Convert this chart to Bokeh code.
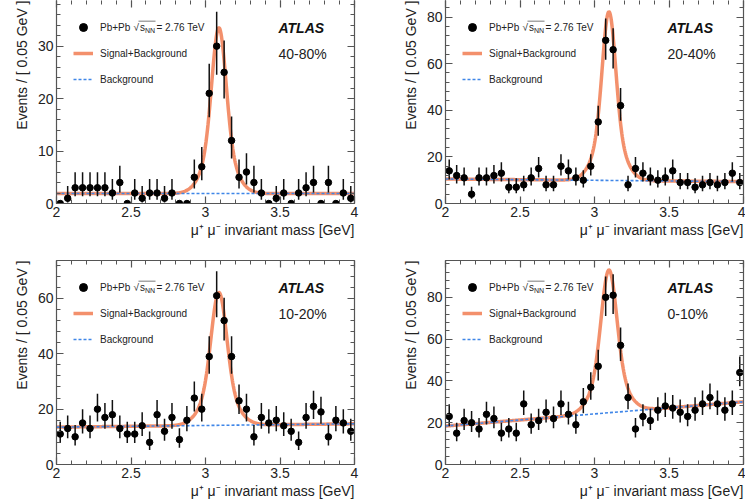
import numpy as np
from bokeh.plotting import figure
from bokeh.layouts import gridplot
from bokeh.models import (Range1d, LinearAxis, Label, SingleIntervalTicker, Title,
                          CustomJSTickFormatter, Legend, LegendItem, BoxAnnotation,
                          CustomLabelingPolicy)
from bokeh.embed import file_html
from bokeh.resources import INLINE

# ---------------- data ----------------
bin_centres = [2.025, 2.075, 2.125, 2.175, 2.225, 2.275, 2.325, 2.375, 2.425, 2.475,
               2.525, 2.575, 2.625, 2.675, 2.725, 2.775, 2.825, 2.875, 2.925, 2.975,
               3.025, 3.075, 3.125, 3.175, 3.225, 3.275, 3.325, 3.375, 3.425, 3.475,
               3.525, 3.575, 3.625, 3.675, 3.725, 3.775, 3.825, 3.875, 3.925, 3.975]

counts_40_80 = [0, 1, 3, 3, 3, 3, 3, 2, 4, 0,
                2, 1, 2, 2, 1, 2, 0, 0, 5, 7,
                21, 30, 25, 12, 5, 6, 4, 2, 0, 1,
                2, 0, 2, 3, 4, 0, 4, 0, 2, 1]
counts_20_40 = [14, 12, 11, 4, 11, 11, 12, 13, 7, 7,
                8, 11, 15, 8, 8, 16, 14, 11, 10, 16,
                35, 70, 66, 42, 8, 15, 13, 11, 10, 11,
                14, 9, 9, 7, 8, 9, 8, 9, 13, 9]
counts_10_20 = [11, 13, 10, 15, 13, 20, 17, 18, 13, 11,
                11, 14, 8, 18, 12, 17, 9, 16, 24, 20,
                39, 61, 52, 39, 23, 20, 10, 17, 15, 16,
                14, 12, 8, 17, 21, 19, 10, 16, 15, 12]
counts_0_10 = [23, 15, 21, 20, 17, 24, 22, 15, 17, 15,
               29, 19, 21, 25, 22, 29, 24, 19, 30, 37,
               47, 80, 81, 57, 32, 17, 23, 21, 26, 28,
               27, 25, 23, 26, 29, 32, 29, 26, 29, 44]

panel_counts = [counts_40_80, counts_20_40, counts_10_20, counts_0_10]
centrality = ["40-80%", "20-40%", "10-20%", "0-10%"]

# fit curves (core + wide Gaussian signal on a linear background)
fit_mean = [3.090, 3.097, 3.090, 3.097]
fit_sigma_core = [0.046, 0.043, 0.050, 0.050]
fit_sigma_wide = [0.092, 0.088, 0.100, 0.100]
fit_wide_fraction = [0.30, 0.30, 0.30, 0.30]
fit_signal_peak = [31.6, 72.4, 48.0, 68.3]
fit_bkg_at_2 = [1.9, 10.5, 13.5, 18.4]
fit_bkg_at_4 = [1.9, 9.4, 14.7, 30.0]

y_axis_max = [38.7, 87.1, 73.7, 97.6]
y_major_step = [10, 20, 20, 20]

x_title = "\u03bc\u207a \u03bc\u207b invariant mass [GeV]"
y_title = "Events / [ 0.05 GeV ]"

# ---------------- style ----------------
FONT = "Liberation Sans"
CURVE = "#f2845c"
BKG = "#3f86e8"
AXIS = "#555555"
TEXT = "#222222"

# (width, height, border left, right, top, bottom)
geom = [
    (372, 251, 56, 18, 0, 48),
    (373, 251, 73, 2, 0, 48),
    (372, 252, 56, 18, 9, 39),
    (373, 252, 73, 2, 9, 39),
]


def style_axis(ax, show_labels, show_line=True):
    ax.axis_line_color = AXIS if show_line else None
    ax.axis_line_width = 1.2
    ax.major_tick_in = 7
    ax.major_tick_out = 0
    ax.minor_tick_in = 4
    ax.minor_tick_out = 0
    ax.major_tick_line_color = AXIS
    ax.minor_tick_line_color = AXIS
    ax.major_tick_line_width = 1.2
    ax.minor_tick_line_width = 1
    if show_labels:
        ax.major_label_text_font = FONT
        ax.major_label_text_font_size = "14px"
        ax.major_label_text_color = TEXT
        ax.major_label_standoff = 3
    else:
        ax.major_label_text_font_size = "0px"
        ax.major_label_standoff = 0
        ax.major_label_policy = CustomLabelingPolicy(
            code="for (const i of indices) indices.unset(i)")


def make_panel(i):
    w, h, bl, br, bt, bb = geom[i]
    fh = h - bt - bb
    p = figure(width=w, height=h, x_range=Range1d(2, 4), y_range=Range1d(0, y_axis_max[i]),
               output_backend="svg", toolbar_location=None, tools="",
               min_border_left=bl, min_border_right=br,
               min_border_top=bt, min_border_bottom=bb,
               x_axis_type=None, y_axis_type=None)
    p.outline_line_color = None
    p.background_fill_color = "white"
    p.border_fill_color = "white"

    fmt = CustomJSTickFormatter(code="return String(Math.round(tick*100)/100);")
    xt = SingleIntervalTicker(interval=0.5, num_minor_ticks=5)
    yt = SingleIntervalTicker(interval=y_major_step[i], num_minor_ticks=5)
    top_line = i >= 2
    for loc, ticker, show, line in [("below", xt, True, True), ("above", xt, False, top_line),
                                    ("left", yt, True, True), ("right", yt, False, True)]:
        ax = LinearAxis(ticker=ticker, formatter=fmt)
        style_axis(ax, show, line)
        p.add_layout(ax, loc)

    p.add_layout(Title(text=x_title, align="right", text_font=FONT, text_font_size="14px",
                       text_font_style="normal", text_color=TEXT, standoff=0), "below")
    p.add_layout(Title(text=y_title, align="right", text_font=FONT, text_font_size="14px",
                       text_font_style="normal", text_color=TEXT, standoff=9), "left")

    x = np.array(bin_centres)
    n = np.array(panel_counts[i], dtype=float)
    nn = np.maximum(n, 1.0)
    up = n + np.sqrt(n + 0.75) + 1.0
    lo = n * (1.0 - 1.0 / (9.0 * nn) - 1.0 / (3.0 * np.sqrt(nn))) ** 3
    m = n > 0

    xs = np.linspace(2, 4, 601)
    bg = fit_bkg_at_2[i] + (fit_bkg_at_4[i] - fit_bkg_at_2[i]) * (xs - 2) / 2
    d = xs - fit_mean[i]
    f = fit_wide_fraction[i]
    shape = (1 - f) * np.exp(-0.5 * (d / fit_sigma_core[i]) ** 2) + \
        f * np.exp(-0.5 * (d / fit_sigma_wide[i]) ** 2)
    tot = bg + fit_signal_peak[i] * shape

    r_curve = p.line(xs, tot, line_color=CURVE, line_width=3.5, line_alpha=0.9)
    r_bkg = p.line([2, 4], [fit_bkg_at_2[i], fit_bkg_at_4[i]], line_color=BKG,
                   line_dash="3 2", line_width=1.6)
    p.segment(x0=x[m], y0=lo[m], x1=x[m], y1=up[m], line_color="#111111", line_width=1.5)
    p.segment(x0=x - 0.012, y0=n, x1=x + 0.012, y1=n, line_color="#111111", line_width=1.5)
    r_pts = p.scatter(x, n, size=6.5, fill_color="black", line_color="black")

    legend = Legend(items=[LegendItem(label="Pb+Pb", renderers=[r_pts]),
                           LegendItem(label="Signal+Background", renderers=[r_curve]),
                           LegendItem(label="Background", renderers=[r_bkg])],
                    location=(17, fh - 89), orientation="vertical",
                    background_fill_alpha=0, border_line_alpha=0, padding=0, margin=0,
                    spacing=6, glyph_width=20, glyph_height=20, label_height=20,
                    label_standoff=7, label_text_font=FONT, label_text_font_size="10px",
                    label_text_color=TEXT)
    p.add_layout(legend)

    row1 = fh - 26.7
    p.add_layout(Label(x=77, y=row1, x_units="screen", y_units="screen", text="\u221a",
                       text_font=FONT, text_font_size="10px", text_color=TEXT,
                       text_baseline="middle"))
    p.add_layout(Label(x=83.5, y=row1, x_units="screen", y_units="screen", text="s",
                       text_font=FONT, text_font_size="10px", text_color=TEXT,
                       text_baseline="middle"))
    p.add_layout(Label(x=88.5, y=row1 - 3, x_units="screen", y_units="screen", text="NN",
                       text_font=FONT, text_font_size="7px", text_color=TEXT,
                       text_baseline="middle"))
    p.add_layout(Label(x=100, y=row1, x_units="screen", y_units="screen", text="= 2.76 TeV",
                       text_font=FONT, text_font_size="10px", text_color=TEXT,
                       text_baseline="middle"))
    p.add_layout(BoxAnnotation(left=82, right=99, top=row1 + 6.5, bottom=row1 + 5.8,
                               left_units="screen", right_units="screen",
                               top_units="screen", bottom_units="screen",
                               fill_color=TEXT, fill_alpha=0.8, line_color=None))

    p.add_layout(Label(x=222, y=fh - 27, x_units="screen", y_units="screen", text="ATLAS",
                       text_font=FONT, text_font_size="14px", text_font_style="bold italic",
                       text_color="#111111", text_baseline="middle"))
    p.add_layout(Label(x=222, y=fh - 53, x_units="screen", y_units="screen",
                       text=centrality[i], text_font=FONT, text_font_size="14px",
                       text_color=TEXT, text_baseline="middle"))
    return p


plots = [make_panel(i) for i in range(4)]
grid = gridplot([[plots[0], plots[1]], [plots[2], plots[3]]], toolbar_location=None)

open("out.html", "w").write(file_html(grid, INLINE))
